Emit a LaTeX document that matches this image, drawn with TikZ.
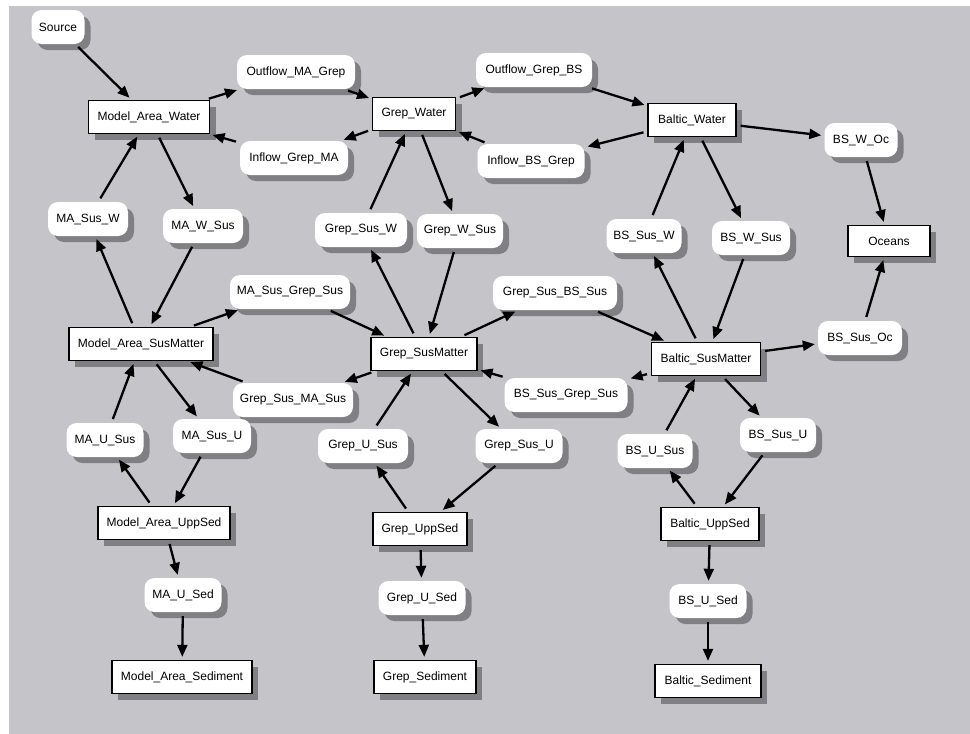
\documentclass[tikz,border=0pt]{standalone}
\usepackage{fontspec}
\setmainfont{Liberation Sans}
\usetikzlibrary{arrows.meta,shadows}
\definecolor{bgc}{RGB}{197,196,201}
\definecolor{shdc}{RGB}{128,127,132}
\begin{document}
\begin{tikzpicture}[x=1pt,y=-1pt,font=\fontsize{12}{14}\selectfont,
  shd/.style={drop shadow={shadow xshift=6pt,shadow yshift=-6pt,fill=shdc,draw=none,opacity=1}},
  box/.style={rectangle,draw=black,line width=1.3pt,fill=white,inner sep=0pt,minimum height=33pt,shd},
  rnd/.style={rectangle,rounded corners=10pt,fill=white,inner sep=0pt,minimum height=34pt,shd},
  arr/.style={line width=2.3pt,-{Triangle[length=12pt,width=10pt]},shorten >=3pt,shorten <=4pt}]
\useasboundingbox (0,0) rectangle (970,734);
\fill[white] (0,0) rectangle (970,734);
\fill[bgc] (9,6) rectangle (970,734);
% nodes
\node[rnd,minimum width=53pt] (src) at (58,27) {Source};
\node[box,minimum width=121pt] (maw) at (149,117) {Model\_Area\_Water};
\node[rnd,minimum width=118pt] (omg) at (296,72) {Outflow\_MA\_Grep};
\node[rnd,minimum width=108pt] (igm) at (294,158) {Inflow\_Grep\_MA};
\node[box,minimum width=83pt] (gw) at (414,114) {Grep\_Water};
\node[rnd,minimum width=116pt] (ogb) at (534,70) {Outflow\_Grep\_BS};
\node[rnd,minimum width=107pt] (ibg) at (531,161) {Inflow\_BS\_Grep};
\node[box,minimum width=88pt] (bw) at (692,120) {Baltic\_Water};
\node[rnd,minimum width=73pt] (bswoc) at (861,140) {BS\_W\_Oc};
\node[box,minimum width=82pt,minimum height=31pt] (oc) at (889,241) {Oceans};
\node[rnd,minimum width=80pt] (masw) at (88,219) {MA\_Sus\_W};
\node[rnd,minimum width=80pt] (maws) at (203,226) {MA\_W\_Sus};
\node[rnd,minimum width=92pt] (gsw) at (361,230) {Grep\_Sus\_W};
\node[rnd,minimum width=86pt] (gws) at (460,231) {Grep\_W\_Sus};
\node[rnd,minimum width=75pt] (bssw) at (644,236) {BS\_Sus\_W};
\node[rnd,minimum width=78pt] (bsws) at (751,238) {BS\_W\_Sus};
\node[box,minimum width=144pt] (masm) at (141,344) {Model\_Area\_SusMatter};
\node[rnd,minimum width=120pt] (masgs) at (290,292) {MA\_Sus\_Grep\_Sus};
\node[rnd,minimum width=120pt] (gsmas) at (293,400) {Grep\_Sus\_MA\_Sus};
\node[box,minimum width=106pt] (gsm) at (424,354) {Grep\_SusMatter};
\node[rnd,minimum width=124pt] (gsbss) at (555,293) {Grep\_Sus\_BS\_Sus};
\node[rnd,minimum width=123pt] (bsgs) at (566,395) {BS\_Sus\_Grep\_Sus};
\node[box,minimum width=109pt] (bsm) at (706,359) {Baltic\_SusMatter};
\node[rnd,minimum width=84pt] (bsoc) at (860,338) {BS\_Sus\_Oc};
\node[rnd,minimum width=77pt] (maus) at (105,440) {MA\_U\_Sus};
\node[rnd,minimum width=78pt] (masu) at (212,436) {MA\_Sus\_U};
\node[rnd,minimum width=90pt] (gus) at (363,446) {Grep\_U\_Sus};
\node[rnd,minimum width=87pt] (gsu) at (519,446) {Grep\_Sus\_U};
\node[rnd,minimum width=75pt] (bsus) at (655,451) {BS\_U\_Sus};
\node[rnd,minimum width=76pt] (bssu) at (778,435) {BS\_Sus\_U};
\node[box,minimum width=132pt] (maup) at (164,523) {Model\_Area\_UppSed};
\node[box,minimum width=94pt] (gup) at (420,529) {Grep\_UppSed};
\node[box,minimum width=98pt] (bup) at (710,524) {Baltic\_UppSed};
\node[rnd,minimum width=77pt] (mause) at (183,595) {MA\_U\_Sed};
\node[rnd,minimum width=87pt] (guse) at (422,598) {Grep\_U\_Sed};
\node[rnd,minimum width=77pt] (bsuse) at (708,601) {BS\_U\_Sed};
\node[box,minimum width=140pt] (mased) at (182,677) {Model\_Area\_Sediment};
\node[box,minimum width=102pt] (gsed) at (425,677) {Grep\_Sediment};
\node[box,minimum width=106pt] (bsed) at (708,681) {Baltic\_Sediment};
% edges
\draw[arr] (src) -- (maw);
\draw[arr] (maw) -- (omg);
\draw[arr] (omg) -- (gw);
\draw[arr] (gw) -- (igm);
\draw[arr] (igm) -- (maw);
\draw[arr] (gw) -- (ogb);
\draw[arr] (ogb) -- (bw);
\draw[arr] (bw) -- (ibg);
\draw[arr] (ibg) -- (gw);
\draw[arr] (bw) -- (bswoc);
\draw[arr] (bswoc) -- (oc);
\draw[arr] (masw) -- (maw);
\draw[arr] (maw) -- (maws);
\draw[arr] (masm) -- (masw);
\draw[arr] (maws) -- (masm);
\draw[arr] (masm) -- (masgs);
\draw[arr] (masgs) -- (gsm);
\draw[arr] (gsm) -- (gsmas);
\draw[arr] (gsmas) -- (masm);
\draw[arr] (gsw) -- (gw);
\draw[arr] (gw) -- (gws);
\draw[arr] (gsm) -- (gsw);
\draw[arr] (gws) -- (gsm);
\draw[arr] (gsm) -- (gsbss);
\draw[arr] (gsbss) -- (bsm);
\draw[arr] (bsm) -- (bsgs);
\draw[arr] (bsgs) -- (gsm);
\draw[arr] (bssw) -- (bw);
\draw[arr] (bw) -- (bsws);
\draw[arr] (bsm) -- (bssw);
\draw[arr] (bsws) -- (bsm);
\draw[arr] (bsm) -- (bsoc);
\draw[arr] (bsoc) -- (oc);
\draw[arr] (maus) -- (masm);
\draw[arr] (masm) -- (masu);
\draw[arr] (maup) -- (maus);
\draw[arr] (masu) -- (maup);
\draw[arr] (maup) -- (mause);
\draw[arr] (mause) -- (mased);
\draw[arr] (gus) -- (gsm);
\draw[arr] (gsm) -- (gsu);
\draw[arr] (gup) -- (gus);
\draw[arr] (gsu) -- (gup);
\draw[arr] (gup) -- (guse);
\draw[arr] (guse) -- (gsed);
\draw[arr] (bsus) -- (bsm);
\draw[arr] (bsm) -- (bssu);
\draw[arr] (bup) -- (bsus);
\draw[arr] (bssu) -- (bup);
\draw[arr] (bup) -- (bsuse);
\draw[arr] (bsuse) -- (bsed);
\end{tikzpicture}
\end{document}
